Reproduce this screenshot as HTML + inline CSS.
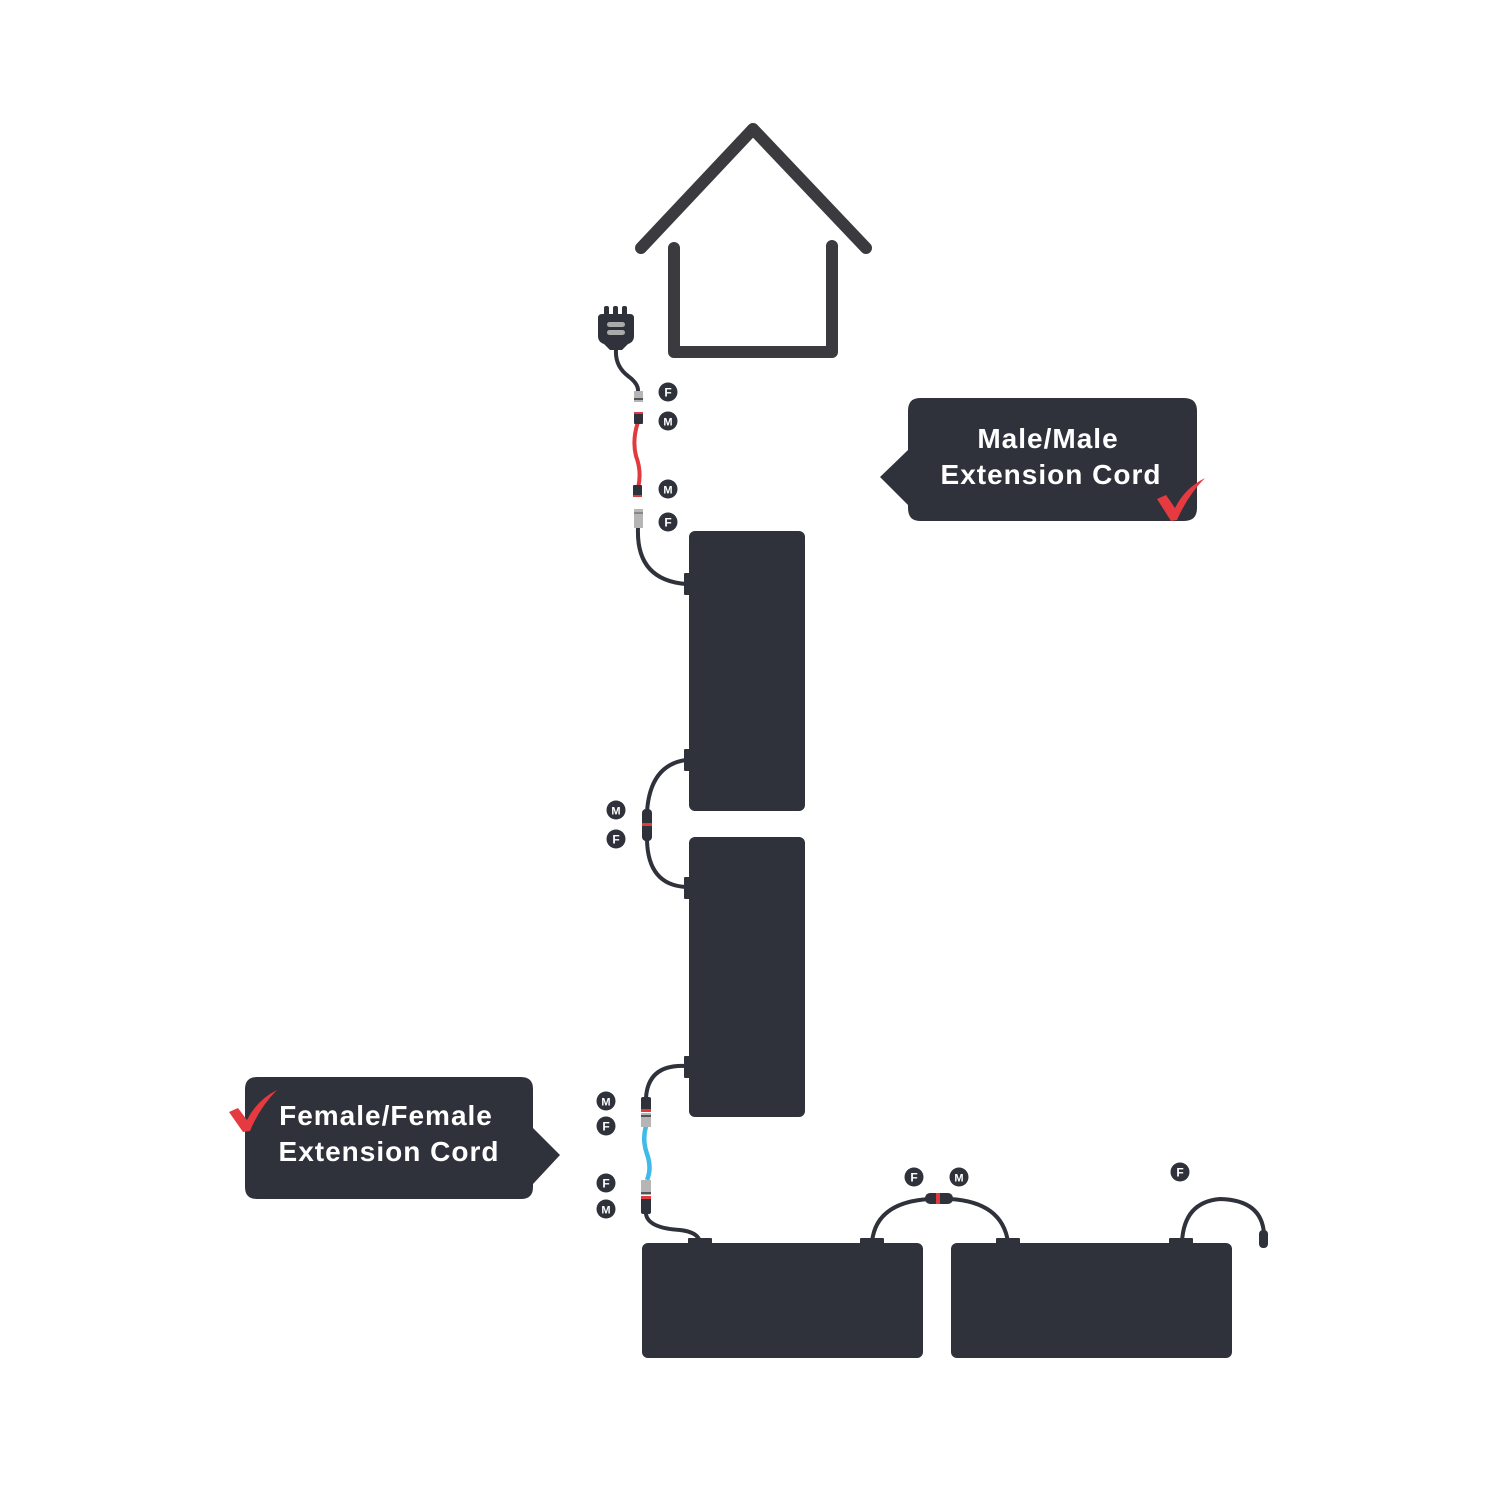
<!DOCTYPE html>
<html><head><meta charset="utf-8"><style>html,body{margin:0;padding:0;background:#fff}svg{display:block}</style></head>
<body>
<svg width="1500" height="1500" viewBox="0 0 1500 1500" xmlns="http://www.w3.org/2000/svg">
<defs>
<g id="bF"><circle r="9.5" fill="#2f323a"/><text y="4.3" text-anchor="middle" font-family="Liberation Sans, sans-serif" font-weight="bold" font-size="12" fill="#fff">F</text></g>
<g id="bM"><circle r="9.5" fill="#2f323a"/><text y="4.3" text-anchor="middle" font-family="Liberation Sans, sans-serif" font-weight="bold" font-size="11" fill="#fff">M</text></g>
</defs>
<rect width="1500" height="1500" fill="#fff"/>
<!-- House -->
<g fill="none" stroke="#3a3a3f" stroke-width="12" stroke-linecap="round" stroke-linejoin="round">
<polyline points="641,248 753,129 866,248"/>
<polyline points="674,248 674,352 832,352 832,246"/>
</g>
<!-- plug -->
<g fill="#2f323a">
<rect x="604" y="306" width="5" height="10" rx="2"/><rect x="613" y="306" width="5" height="10" rx="2"/><rect x="622" y="306" width="5" height="10" rx="2"/>
<path d="M598 318 Q598 314 602 314 L630 314 Q634 314 634 318 L634 336 Q634 342 628 344 L622 350 L610 350 L604 344 Q598 342 598 336 Z"/>
</g>
<rect x="607" y="322" width="18" height="5" rx="2.5" fill="#aaa"/><rect x="607" y="330" width="18" height="5" rx="2.5" fill="#aaa"/>
<g fill="none" stroke="#2f323a" stroke-width="4" stroke-linecap="round">
<path d="M616 350 Q615 366 628 376 Q639 384 638 392"/>
<path d="M638 528 Q636 580 686 584"/>
<path d="M686 760 Q650 765 647 812"/><path d="M647 840 Q648 885 686 887"/>
<path d="M686 1066 Q648 1064 646 1098"/>
<path d="M646 1214 Q648 1228 680 1230 Q698 1232 700 1242"/>
<path d="M872 1242 Q876 1202 930 1199"/><path d="M950 1199 Q1002 1202 1008 1242"/>
<path d="M1182 1242 Q1184 1202 1220 1199 Q1262 1200 1264 1234"/>
</g>
<!-- red cord -->
<path d="M638 422 Q632 440 636 456 Q642 472 638 488" fill="none" stroke="#e03a3e" stroke-width="4"/>
<rect x="634" y="391" width="9" height="11" fill="#b5b5b5"/><rect x="634" y="398" width="9" height="2" fill="#555"/>
<rect x="634" y="412" width="9" height="12" rx="1" fill="#2f323a"/><rect x="634" y="412" width="9" height="2" fill="#e03a3e"/>
<rect x="633" y="485" width="9" height="12" rx="1" fill="#2f323a"/><rect x="633" y="495" width="9" height="2" fill="#e03a3e"/>
<rect x="634" y="509" width="9" height="19" fill="#b5b5b5"/><rect x="634" y="512" width="9" height="2" fill="#888"/>
<!-- panel connector -->
<rect x="642" y="809" width="10" height="32" rx="4" fill="#2f323a"/><rect x="642" y="823" width="10" height="3" fill="#e03a3e"/>
<!-- blue cord -->
<path d="M646 1126 Q642 1140 647 1154 Q652 1168 647 1180" fill="none" stroke="#3ebbe8" stroke-width="4.5"/>
<rect x="641" y="1097" width="10" height="15" rx="2" fill="#2f323a"/><rect x="641" y="1109" width="10" height="3" fill="#e03a3e"/>
<rect x="641" y="1113" width="10" height="14" fill="#b5b5b5"/><rect x="641" y="1115" width="10" height="2" fill="#555"/>
<rect x="641" y="1180" width="10" height="15" fill="#b5b5b5"/><rect x="641" y="1192" width="10" height="2" fill="#555"/>
<rect x="641" y="1196" width="10" height="18" rx="2" fill="#2f323a"/><rect x="641" y="1196" width="10" height="3" fill="#e03a3e"/>
<!-- horizontal connector -->
<rect x="925" y="1193" width="28" height="11" rx="5" fill="#2f323a"/><rect x="936" y="1193" width="4" height="11" fill="#e03a3e"/>
<rect x="1259" y="1230" width="9" height="18" rx="4" fill="#2f323a"/>
<!-- panels -->
<g fill="#2f323a">
<rect x="689" y="531" width="116" height="280" rx="6"/>
<rect x="689" y="837" width="116" height="280" rx="6"/>
<rect x="642" y="1243" width="281" height="115" rx="6"/>
<rect x="951" y="1243" width="281" height="115" rx="6"/>
<rect x="684" y="573" width="8" height="22" rx="1"/><rect x="684" y="749" width="8" height="22" rx="1"/>
<rect x="684" y="877" width="8" height="22" rx="1"/><rect x="684" y="1056" width="8" height="22" rx="1"/>
<rect x="688" y="1238" width="24" height="8" rx="1"/><rect x="860" y="1238" width="24" height="8" rx="1"/>
<rect x="996" y="1238" width="24" height="8" rx="1"/><rect x="1169" y="1238" width="24" height="8" rx="1"/>
</g>
<!-- badges -->
<use href="#bF" x="668" y="392"/><use href="#bM" x="668" y="421"/>
<use href="#bM" x="668" y="489"/><use href="#bF" x="668" y="522"/>
<use href="#bM" x="616" y="810"/><use href="#bF" x="616" y="839"/>
<use href="#bM" x="606" y="1101"/><use href="#bF" x="606" y="1126"/>
<use href="#bF" x="606" y="1183"/><use href="#bM" x="606" y="1209"/>
<use href="#bF" x="914" y="1177"/><use href="#bM" x="959" y="1177"/>
<use href="#bF" x="1180" y="1172"/>
<!-- callout 1 -->
<path d="M920 398 L1184 398 Q1197 398 1197 411 L1197 508 Q1197 521 1184 521 L920 521 Q908 521 908 508 L908 505 L880 477 L908 450 L908 411 Q908 398 920 398 Z" fill="#2f323a"/>
<g font-family="Liberation Sans, sans-serif" font-weight="bold" font-size="28" fill="#fff" text-anchor="middle" letter-spacing="1">
<text x="1048" y="448">Male/Male</text>
<text x="1051" y="484">Extension Cord</text>
</g>
<path d="M1157 499 L1166 495 L1175 508 Q1185 488 1205 478 Q1188 495 1177 520 L1171 521 Z" fill="#e53a40"/>
<!-- callout 2 -->
<path d="M257 1077 L521 1077 Q533 1077 533 1089 L533 1128 L560 1155 L533 1184 L533 1187 Q533 1199 521 1199 L257 1199 Q245 1199 245 1187 L245 1089 Q245 1077 257 1077 Z" fill="#2f323a"/>
<g font-family="Liberation Sans, sans-serif" font-weight="bold" font-size="28" fill="#fff" text-anchor="middle" letter-spacing="1">
<text x="386" y="1125">Female/Female</text>
<text x="389" y="1161">Extension Cord</text>
</g>
<path d="M229 1112 L238 1108 L247 1120 Q257 1100 277 1090 Q260 1107 250 1131 L243 1132 Z" fill="#e53a40"/>
</svg>
</body></html>
